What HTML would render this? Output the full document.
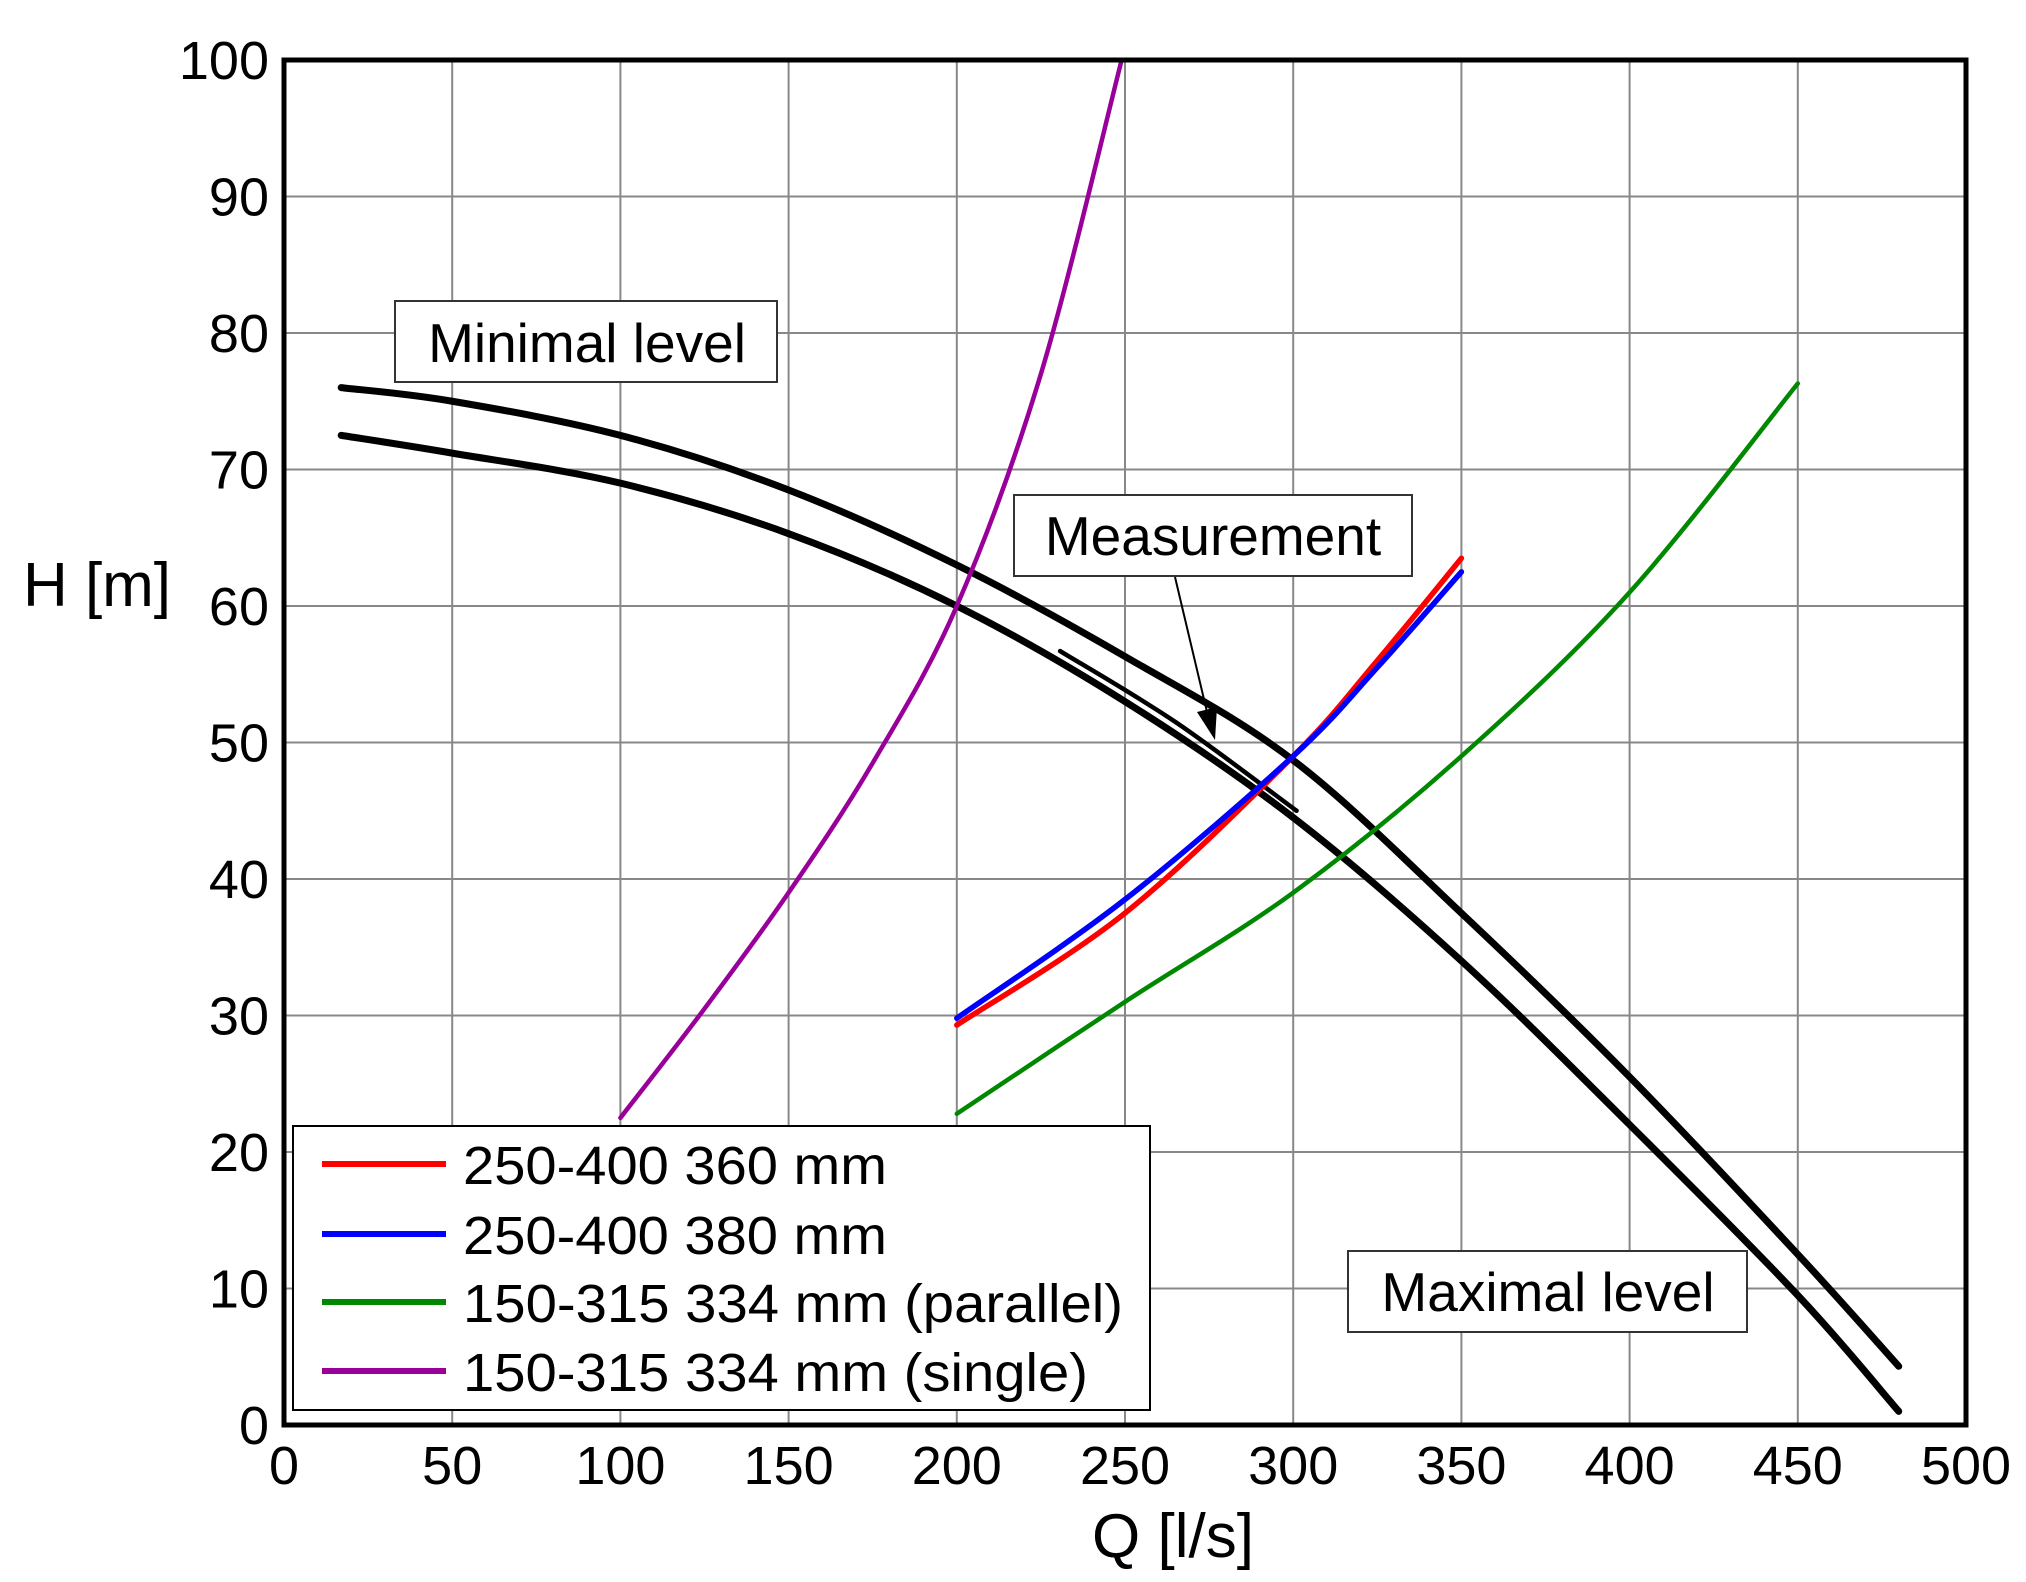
<!DOCTYPE html>
<html><head><meta charset="utf-8"><style>
html,body{margin:0;padding:0;background:#fff;}
svg{display:block;font-family:"Liberation Sans",Arial,sans-serif;}
</style></head><body>
<svg id="s" width="2026" height="1582" viewBox="0 0 2026 1582" xmlns="http://www.w3.org/2000/svg">
<rect width="2026" height="1582" fill="#fff"/>
<g id="grid" stroke="#888" stroke-width="2"></g>
<g id="curves" fill="none" stroke-linecap="round" stroke-linejoin="round"></g>
<rect x="284" y="60" width="1682" height="1365" fill="none" stroke="#000" stroke-width="5"/>
<g id="ticks" font-size="54" fill="#000"></g>
<text x="97" y="606" font-size="62" text-anchor="middle">H [m]</text>
<text x="1173" y="1557" font-size="62" text-anchor="middle">Q [l/s]</text>
<rect x="395" y="301" width="382" height="81" fill="#fff" stroke="#333" stroke-width="2"/>
<text x="587" y="362" font-size="55" text-anchor="middle">Minimal level</text>
<line x1="1175" y1="577" x2="1207" y2="712" stroke="#000" stroke-width="2"/>
<polygon points="1215,740 1197,712 1217,707" fill="#000"/>
<rect x="1014" y="495" width="398" height="81" fill="#fff" stroke="#333" stroke-width="2"/>
<text x="1213" y="555" font-size="55" text-anchor="middle">Measurement</text>
<rect x="1348" y="1251" width="399" height="81" fill="#fff" stroke="#333" stroke-width="2"/>
<text x="1548" y="1311" font-size="55" text-anchor="middle">Maximal level</text>
<rect x="293" y="1126" width="857" height="284" fill="#fff" stroke="#000" stroke-width="2"/>
<g stroke-width="6">
<line x1="322" y1="1164" x2="446" y2="1164" stroke="#f00"/>
<line x1="322" y1="1234" x2="446" y2="1234" stroke="#00f"/>
<line x1="322" y1="1302" x2="446" y2="1302" stroke="#080"/>
<line x1="322" y1="1371" x2="446" y2="1371" stroke="#909"/>
</g>
<g font-size="54" fill="#000">
<text x="463" y="1184" textLength="424" lengthAdjust="spacingAndGlyphs">250-400 360 mm</text>
<text x="463" y="1254" textLength="424" lengthAdjust="spacingAndGlyphs">250-400 380 mm</text>
<text x="463" y="1322" textLength="660" lengthAdjust="spacingAndGlyphs">150-315 334 mm (parallel)</text>
<text x="463" y="1391" textLength="625" lengthAdjust="spacingAndGlyphs">150-315 334 mm (single)</text>
</g>
</svg>
<script>
var NS="http://www.w3.org/2000/svg";
function X(q){return 284+q*3.364;}
function Y(h){return 1425-h*13.65;}
function el(p,n,a){var e=document.createElementNS(NS,n);for(var k in a)e.setAttribute(k,a[k]);p.appendChild(e);return e;}
var g=document.getElementById('grid'),t=document.getElementById('ticks'),c=document.getElementById('curves');
for(var i=1;i<10;i++){el(g,'line',{x1:X(i*50),x2:X(i*50),y1:60,y2:1425});el(g,'line',{x1:284,x2:1966,y1:Y(i*10),y2:Y(i*10)});}
for(var i=0;i<=10;i++){var e=el(t,'text',{x:X(i*50),y:1484,'text-anchor':'middle'});e.textContent=i*50;
var f=el(t,'text',{x:269,y:Y(i*10)+19,'text-anchor':'end'});f.textContent=i*10;}
function path(pts){var P=pts.map(function(p){return [X(p[0]),Y(p[1])];});var d='M'+P[0][0]+','+P[0][1];
for(var i=0;i<P.length-1;i++){var p0=P[i-1]||P[i],p1=P[i],p2=P[i+1],p3=P[i+2]||P[i+1];
d+=' C'+(p1[0]+(p2[0]-p0[0])/6)+','+(p1[1]+(p2[1]-p0[1])/6)+' '+(p2[0]-(p3[0]-p1[0])/6)+','+(p2[1]-(p3[1]-p1[1])/6)+' '+p2[0]+','+p2[1];}return d;}
function curve(pts,col,w){el(c,'path',{d:path(pts),stroke:col,'stroke-width':w});}
curve([[17,76],[50,75],[100,72.5],[150,68.5],[200,63],[250,56.3],[300,48.7],[350,37.5],[400,25.5],[450,12.5],[480,4.3]],'#000',7);
curve([[17,72.5],[50,71.2],[100,69],[150,65.3],[200,60],[250,53],[300,44.5],[350,34],[400,22],[450,9.5],[480,1]],'#000',7);
curve([[230.7,56.7],[265,51.5],[301,45]],'#000',4.5);
curve([[100,22.5],[125,30.5],[150,39],[175,48.5],[200,60],[225,77],[249,100]],'#909',4.5);
curve([[200,22.8],[250,31],[300,39],[350,49],[400,61],[450,76.3]],'#080',4.5);
curve([[200,29.3],[250,37.5],[300,49],[325,56],[350,63.5]],'#f00',5.5);
curve([[200,29.8],[250,38.5],[300,49],[325,55.5],[350,62.5]],'#00f',5.5);
</script>
</body></html>
